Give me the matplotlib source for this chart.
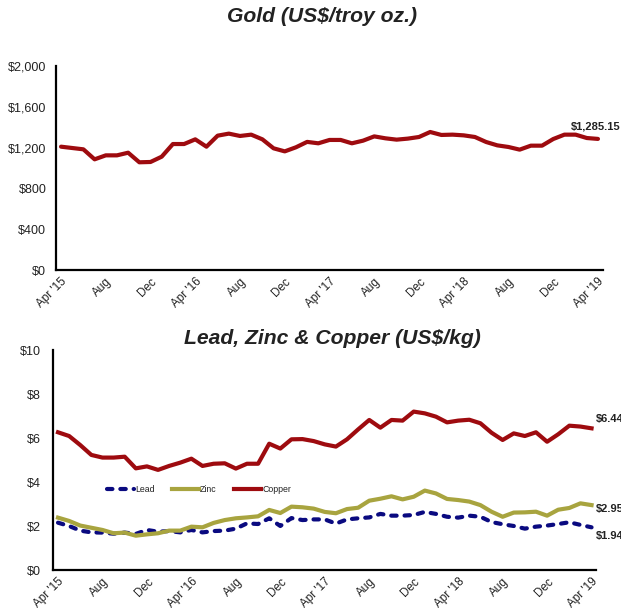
import matplotlib
matplotlib.use("Agg")
import matplotlib.pyplot as plt
import numpy as np

plt.rcParams['font.family'] = ['Liberation Sans', 'DejaVu Sans']

# ---- data (monthly, Apr 2015 .. Apr 2019) ----
tick_labels = ["Apr '15", "Aug", "Dec", "Apr '16", "Aug", "Dec", "Apr '17",
               "Aug", "Dec", "Apr '18", "Aug", "Dec", "Apr '19"]

gold = [1209, 1196, 1183, 1085, 1124, 1124, 1150, 1056, 1059, 1111,
        1235, 1235, 1281, 1209, 1317, 1337, 1314, 1327, 1281, 1193,
        1163, 1203, 1256, 1242, 1275, 1275, 1242, 1268, 1310, 1291,
        1278, 1288, 1304, 1353, 1324, 1327, 1320, 1304, 1255, 1222,
        1206, 1180, 1219, 1219, 1284, 1327, 1327, 1294, 1285.15]

copper = [6.26, 6.09, 5.68, 5.23, 5.11, 5.11, 5.15, 4.62, 4.71, 4.55,
          4.73, 4.88, 5.06, 4.73, 4.83, 4.85, 4.61, 4.83, 4.83, 5.74,
          5.52, 5.94, 5.95, 5.86, 5.71, 5.61, 5.94, 6.39, 6.82, 6.47,
          6.82, 6.79, 7.20, 7.12, 6.97, 6.71, 6.79, 6.83, 6.67, 6.24,
          5.91, 6.21, 6.09, 6.26, 5.83, 6.17, 6.56, 6.52, 6.44]

zinc = [2.38, 2.23, 2.02, 1.92, 1.82, 1.67, 1.70, 1.56, 1.62, 1.67,
        1.79, 1.79, 1.97, 1.94, 2.14, 2.27, 2.35, 2.39, 2.44, 2.73,
        2.59, 2.88, 2.85, 2.79, 2.64, 2.58, 2.77, 2.83, 3.15, 3.24,
        3.35, 3.21, 3.33, 3.61, 3.48, 3.23, 3.18, 3.11, 2.95, 2.65,
        2.42, 2.61, 2.62, 2.65, 2.47, 2.74, 2.82, 3.03, 2.95]

lead = [2.15, 2.00, 1.79, 1.71, 1.70, 1.65, 1.70, 1.64, 1.82, 1.74,
        1.77, 1.71, 1.82, 1.71, 1.77, 1.79, 1.88, 2.12, 2.09, 2.35,
        2.00, 2.36, 2.27, 2.30, 2.30, 2.11, 2.30, 2.35, 2.39, 2.55,
        2.47, 2.47, 2.50, 2.64, 2.55, 2.42, 2.38, 2.47, 2.42, 2.18,
        2.08, 2.00, 1.88, 1.97, 2.02, 2.09, 2.17, 2.05, 1.94]

gold_ticks = [0, 400, 800, 1200, 1600, 2000]
base_ticks = [0, 2, 4, 6, 8, 10]

# ---- styling ----
RED = '#9E0B0F'
ZINC = '#A8A43F'
LEAD = '#0A0A80'
TXT = '#222222'

W, H = 621, 616
fig = plt.figure(figsize=(W / 100, H / 100), dpi=100)

def rect(l, t, r, b):
    return [l / W, 1 - b / H, (r - l) / W, (b - t) / H]

x = np.arange(len(gold))
tick_pos = np.arange(0, len(gold), 4)

def style(ax):
    for s in ('top', 'right'):
        ax.spines[s].set_visible(False)
    for s in ('left', 'bottom'):
        ax.spines[s].set_linewidth(1.6)
        ax.spines[s].set_color('black')
    ax.tick_params(axis='both', length=0, colors=TXT)
    ax.tick_params(axis='y', labelsize=9)
    ax.set_xticks(tick_pos)
    ax.set_xticklabels(tick_labels, rotation=45, ha='right',
                       rotation_mode='anchor', fontsize=8.5)
    ax.tick_params(axis='x', pad=4)

# ---- Gold ----
ax1 = fig.add_axes(rect(56, 66, 603, 270))
ax1.plot(x, gold, color=RED, lw=3, solid_capstyle='round', solid_joinstyle='round')
ax1.set_xlim(-0.45, 48.45)
ax1.set_ylim(0, 2000)
ax1.set_yticks(gold_ticks)
ax1.set_yticklabels([f"${v:,}" for v in gold_ticks])
ax1.tick_params(axis='y', pad=7)
style(ax1)
ax1.annotate(f"${gold[-1]:,.2f}", xy=(x[-1], gold[-1]), xytext=(-19.5, 9),
             textcoords='offset points', ha='left', va='center',
             fontsize=8, fontweight='bold', color=TXT, annotation_clip=False)

fig.text(322 / W, 1 - 17 / H, "Gold (US$/troy oz.)", ha='center', va='center',
         fontsize=15.2, fontweight='bold', style='italic', color=TXT)

# ---- Lead, Zinc, Copper ----
ax2 = fig.add_axes(rect(53, 350, 596, 570))
l_lead, = ax2.plot(x, lead, color=LEAD, lw=3, dashes=(1.3, 1.9),
                   dash_capstyle='round', label='Lead')
l_zinc, = ax2.plot(x, zinc, color=ZINC, lw=3, solid_joinstyle='round', label='Zinc')
l_cu, = ax2.plot(x, copper, color=RED, lw=3, solid_joinstyle='round', label='Copper')
ax2.set_xlim(-0.45, 48.4)
ax2.set_ylim(0, 10)
ax2.set_yticks(base_ticks)
ax2.set_yticklabels([f"${v}" for v in base_ticks])
ax2.tick_params(axis='y', pad=9)
style(ax2)

for vals, dy in ((copper, -7), (zinc, -3), (lead, -6)):
    ax2.annotate(f"${vals[-1]:.2f}", xy=(x[-1], vals[-1]), xytext=(3, dy if vals is not copper else 7),
                 textcoords='offset points', ha='left', va='center',
                 fontsize=8, fontweight='bold', color=TXT, annotation_clip=False)

leg = ax2.legend(handles=[l_lead, l_zinc, l_cu], loc='center left',
                 bbox_to_anchor=(107 / W, 1 - 490 / H), bbox_transform=fig.transFigure,
                 ncol=3, frameon=False, fontsize=6.3, handlelength=3.1,
                 handletextpad=0.1, columnspacing=2.0, borderpad=0, borderaxespad=0)
for t in leg.get_texts():
    t.set_color(TXT)

fig.text(332 / W, 1 - 339 / H, "Lead, Zinc & Copper (US$/kg)", ha='center', va='center',
         fontsize=15.2, fontweight='bold', style='italic', color=TXT)

fig.savefig('out.png', dpi=100)
